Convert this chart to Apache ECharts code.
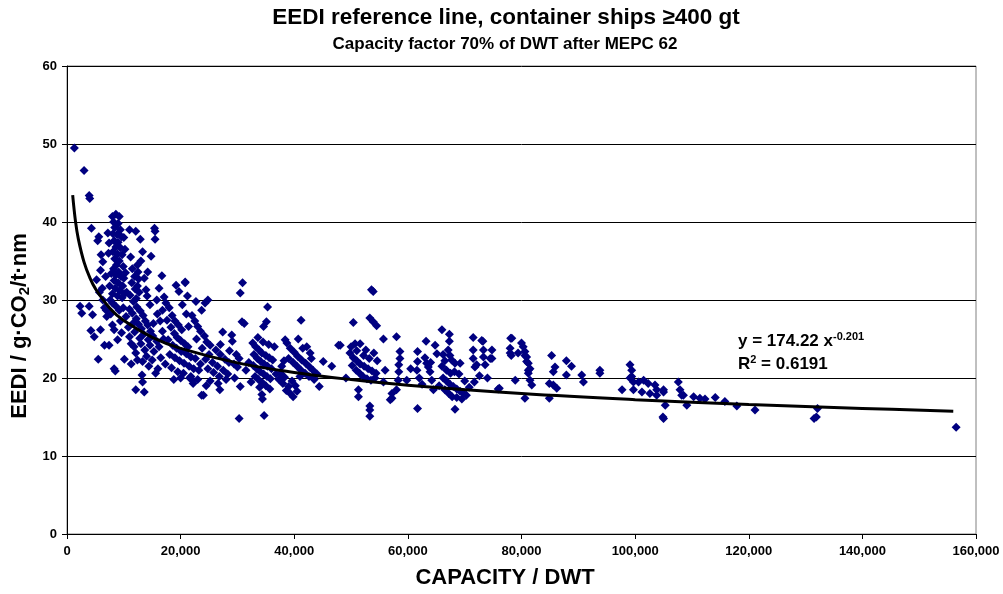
<!DOCTYPE html>
<html><head><meta charset="utf-8">
<script src="https://cdn.jsdelivr.net/npm/echarts@6/dist/echarts.min.js"></script>
<style>html,body{margin:0;padding:0;background:#fff}#c{width:1003px;height:594px}</style>
</head><body><div id="c"></div>
<script>
// capacity in thousand DWT, EEDI in g CO2 / t·nm
const shipsSmall = [[1.3,49.5],[3.0,46.6],[3.9,43.4],[4.0,43.0],[4.3,39.2],[2.3,29.2],[2.6,28.3],[3.9,29.2],[4.5,28.1],[4.2,26.1],[4.8,25.3],[5.9,26.2],[5.5,22.4],[5.6,38.1],[5.4,37.6],[6.0,35.8],[6.3,34.9],[5.9,33.8],[5.2,32.6],[6.3,30.0],[6.6,24.2],[6.9,28.7],[7.0,27.9],[6.2,31.5],[6.6,29.0],[5.7,31.0],[6.8,33.0]];
const shipsFeeder = [[7.2,38.6],[7.4,37.3],[7.3,36.0],[8.0,40.7],[8.6,41.0],[9.2,40.7],[8.2,40.0],[9.0,39.8],[8.4,39.3],[9.4,39.0],[8.1,38.5],[8.8,38.4],[9.6,38.1],[8.3,37.6],[9.0,37.4],[8.6,36.8],[9.4,36.7],[8.1,36.2],[8.9,35.9],[9.7,35.8],[8.4,35.3],[9.2,35.0],[8.7,34.5],[9.9,34.3],[8.2,34.0],[9.1,33.6],[8.6,33.2],[9.5,33.0],[10.0,32.8],[8.3,32.5],[9.0,32.2],[9.8,31.8],[8.5,31.5],[9.3,31.2],[8.0,30.8],[8.9,30.5],[9.7,30.3],[10.1,30.8],[7.6,30.0],[8.0,29.6],[9.2,28.7],[8.6,29.2],[10.4,27.9],[9.9,29.0],[7.7,28.2],[8.0,26.8],[8.3,26.2],[8.9,24.9],[7.4,24.2],[8.3,21.2],[8.5,20.9],[9.6,25.8],[10.1,22.4],[9.4,27.3],[7.8,33.4],[7.5,31.8],[10.3,33.5],[10.5,31.0],[10.2,36.5],[10.0,38.0]];
const shipsFeederMax = [[11.0,39.0],[12.1,38.8],[15.4,39.2],[15.5,38.8],[15.5,37.8],[13.3,36.2],[12.4,34.5],[12.5,33.6],[12.6,32.7],[12.4,31.8],[12.7,31.0],[12.2,30.2],[11.6,27.0],[11.0,25.3],[11.3,24.4],[11.8,24.0],[12.1,23.2],[12.4,22.3],[13.3,22.1],[13.2,20.4],[13.3,19.5],[12.1,18.5],[13.6,18.2],[13.9,31.3],[14.1,30.5],[16.7,33.1],[17.1,30.4],[17.4,29.6],[16.8,28.7],[11.2,35.5],[11.5,34.0],[11.9,33.0],[11.4,32.2],[12.0,31.4],[11.1,30.6],[11.7,29.8],[12.3,29.1],[12.9,28.6],[11.5,28.3],[13.4,28.0],[12.2,27.6],[13.8,27.3],[12.6,26.9],[14.2,26.8],[13.1,26.3],[14.7,26.0],[11.9,25.9],[13.5,25.6],[15.1,25.4],[12.8,25.1],[14.3,24.9],[15.8,24.7],[13.0,24.4],[14.6,24.2],[16.2,24.0],[13.7,23.6],[15.3,23.4],[14.0,22.8],[16.5,22.6],[15.0,22.3],[14.4,21.5],[16.0,21.2],[15.6,20.6],[14.2,33.6],[13.6,32.8],[14.6,29.4],[15.9,28.2],[16.4,27.3],[15.2,27.0],[16.8,26.0],[17.0,25.0],[13.0,35.0],[14.8,35.6],[12.9,37.8],[16.2,31.5],[15.8,30.0],[10.8,26.5],[11.3,21.8],[11.0,28.8]];
const shipsHandy = [[19.2,31.9],[19.7,31.1],[20.8,32.3],[20.8,32.2],[18.0,29.0],[18.5,28.0],[19.0,27.3],[19.6,26.8],[20.2,26.2],[17.6,27.4],[18.3,26.5],[18.9,25.7],[19.4,25.2],[20.0,24.8],[20.7,24.4],[21.3,24.0],[17.8,24.9],[18.6,24.2],[19.3,23.8],[20.1,23.4],[21.0,23.1],[21.8,22.7],[22.6,22.5],[18.1,23.0],[19.0,22.6],[19.8,22.2],[20.6,21.9],[21.5,21.5],[22.3,21.2],[23.2,21.0],[18.4,21.3],[19.5,20.8],[20.5,20.6],[21.8,20.2],[21.6,20.0],[22.2,19.3],[22.1,19.7],[24.0,17.8],[23.7,17.8],[24.3,29.6],[23.7,28.7],[24.8,30.0],[22.0,28.0],[22.5,27.3],[23.0,26.6],[23.5,26.0],[24.2,25.4],[22.8,25.0],[24.6,24.6],[25.2,24.2],[23.8,23.8],[25.0,23.0],[24.4,22.4],[25.6,22.0],[23.5,21.8],[24.8,21.2],[25.8,20.7],[23.0,19.8],[24.5,19.0],[25.2,19.6],[21.0,28.2],[20.3,29.4],[21.4,26.6],[22.7,29.8],[21.2,30.5],[17.3,21.8],[18.8,19.8],[20.0,20.0]];
const shipsSubPanamax = [[27.4,25.9],[29.0,25.5],[29.1,24.7],[26.6,19.3],[26.9,18.5],[26.2,23.6],[27.0,23.0],[27.8,22.4],[28.5,22.0],[26.5,21.5],[27.5,21.0],[28.3,20.5],[29.4,21.8],[29.8,23.0],[30.3,22.5],[28.0,19.8],[29.5,20.0],[30.5,18.9],[30.3,14.8],[30.9,32.2],[30.5,30.9],[30.8,27.2],[31.2,27.0],[27.0,24.3],[28.6,23.5],[30.0,21.4],[26.8,20.2],
 [35.3,29.1],[35.1,27.2],[34.6,26.6],[32.7,24.5],[33.2,24.0],[33.8,23.6],[34.3,23.2],[35.0,22.9],[35.6,22.6],[36.2,22.3],[32.9,23.0],[33.5,22.5],[34.1,22.1],[34.7,21.8],[35.3,21.5],[36.0,21.2],[32.8,21.6],[33.4,21.2],[34.0,20.8],[34.6,20.5],[35.2,20.2],[35.8,19.9],[33.1,20.2],[33.7,19.8],[34.4,19.4],[35.0,19.0],[35.7,18.6],[33.9,18.8],[34.3,17.9],[34.4,17.3],[34.7,15.2],[32.0,22.0],[31.5,21.0],[36.5,24.0],[36.8,20.5],[32.4,19.5],[34.5,24.6],[35.5,24.3],[33.6,25.2]];
const shipsPanamax = [[41.2,27.4],[38.4,24.9],[40.7,25.0],[39.0,18.9],[39.3,18.0],[39.8,17.6],[37.3,19.8],[38.0,19.3],[38.6,18.4],[37.6,20.6],[38.3,20.1],[40.2,19.0],[40.5,18.3],[39.6,19.6],[38.7,24.5],[39.3,23.8],[40.0,23.3],[40.6,22.8],[41.3,22.3],[42.0,21.9],[42.7,21.4],[43.3,21.0],[39.0,22.5],[39.8,22.0],[40.5,21.5],[41.2,21.0],[41.9,20.6],[42.6,20.2],[41.5,23.8],[42.2,24.0],[42.8,23.2],[43.0,22.5],[44.4,18.9],[45.1,22.1],[46.6,21.5],[47.8,24.2],[44.0,20.5],[43.5,19.8],[41.0,20.2],[37.8,21.5],[38.2,22.2],
 [53.9,31.1],[53.6,31.3],[53.3,27.7],[53.9,27.2],[54.5,26.7],[50.4,27.1],[48.1,24.2],[50.7,24.4],[55.7,25.0],[51.6,24.4],[52.2,22.9],[54.0,23.2],[49.1,20.0],[51.3,18.5],[51.3,17.6],[53.3,16.4],[53.3,15.9],[53.3,15.1],[55.7,19.5],[49.8,23.2],[50.4,22.6],[51.0,22.2],[51.6,21.8],[52.3,21.5],[53.0,21.2],[53.7,20.9],[54.4,20.6],[50.2,21.6],[50.9,21.0],[51.5,20.6],[52.1,20.2],[52.8,19.9],[53.5,19.7],[54.2,20.0],[52.6,23.6],[53.2,22.5],[51.0,23.5],[50.0,24.0],[54.6,22.2],[56.0,21.0]];
const shipsPostPanamax = [[58.0,25.3],[58.6,23.4],[58.6,22.5],[58.4,21.7],[58.4,20.8],[58.3,19.7],[57.2,18.0],[57.2,17.4],[56.9,17.2],[58.0,18.5],[59.8,19.7],[61.7,16.1],[61.7,23.4],[61.7,22.1],[61.6,21.0],[63.2,24.7],[64.8,24.2],[65.1,23.1],[63.3,21.9],[63.6,21.4],[63.9,20.8],[64.2,19.7],[64.5,18.5],[62.0,20.0],[60.5,21.2],[63.0,22.6],[64.0,22.0],[62.5,19.2],
 [66.0,26.2],[67.3,25.6],[67.3,24.7],[67.1,23.6],[67.4,22.9],[67.7,22.3],[68.3,21.9],[69.2,21.9],[66.2,23.0],[66.5,22.2],[66.0,21.5],[66.8,21.0],[67.5,20.6],[68.2,20.8],[69.0,20.5],[66.2,20.0],[66.8,19.6],[67.4,19.2],[68.0,18.9],[68.6,18.6],[69.2,18.3],[69.8,18.0],[70.3,17.8],[66.5,18.5],[67.2,18.0],[67.8,17.6],[68.6,17.5],[69.5,17.3],[68.3,16.0],[70.0,19.6],[65.5,19.0],[70.8,18.8],
 [71.5,25.2],[73.0,24.8],[71.5,23.6],[71.5,22.5],[71.8,21.4],[71.7,19.5],[72.1,21.7],[73.2,24.7],[73.3,23.6],[74.8,23.6],[73.3,22.7],[73.6,21.7],[74.8,22.5],[75.9,18.6],[76.1,18.7],[74.5,22.5],[72.6,20.3],[74.0,20.0]];
const shipsLarge = [[78.1,25.1],[78.3,25.1],[78.0,23.8],[78.0,23.2],[78.2,22.9],[80.0,24.5],[80.3,24.0],[80.6,23.4],[80.6,22.9],[80.9,22.7],[80.9,22.1],[81.2,21.9],[81.2,21.0],[81.5,21.2],[81.2,20.6],[81.5,19.7],[81.8,19.1],[78.9,19.7],[79.4,23.2],[80.6,17.4],[85.3,22.9],[85.9,21.4],[85.6,20.8],[87.9,22.2],[88.8,21.5],[87.9,20.4],[84.9,19.3],[85.6,19.1],[86.2,18.7],[84.9,17.4],
 [90.6,20.4],[90.9,19.5],[93.8,21.0],[93.8,20.6],[97.7,18.5],[99.1,21.7],[99.4,21.0],[99.4,20.2],[99.1,20.0],[99.7,19.5],[100.6,19.5],[101.5,19.7],[102.3,19.3],[103.5,19.1],[103.8,18.5],[105.0,18.5],[99.7,18.5],[101.2,18.2],[102.6,18.0],[103.8,17.8],[105.0,18.2],[105.3,16.5],[104.9,15.0],[105.0,14.8],[107.6,19.5],[107.9,18.5],[108.2,17.8],[108.5,17.8],[109.1,16.5],[110.3,17.6],[111.4,17.4],[112.3,17.3],[114.1,17.5],[115.8,17.0],[117.9,16.4],[121.1,15.9],
 [132.1,16.1],[131.9,15.0],[131.5,14.8],[156.5,13.7]];
// power trend line y = 174.22 x^-0.201
const trendX = [1,1.5,2,3,4,5,7.5,10,15,20,30,40,50,60,80,100,120,140,156];
const trendY = [43.45,40.05,37.81,34.85,32.89,31.45,28.99,27.36,25.21,23.80,21.94,20.71,19.80,19.08,18.01,17.22,16.60,16.10,15.75];
const xTicks = [0,20,40,60,80,100,120,140,160];
const yTicks = [0,10,20,30,40,50,60];

const allShips = [].concat(shipsSmall, shipsFeeder, shipsFeederMax, shipsHandy, shipsSubPanamax, shipsPanamax, shipsPostPanamax, shipsLarge);
const F = 'Liberation Sans, Arial, sans-serif';
const supStyle = {fontFamily: F, fontWeight: 'bold', fontSize: 11, fill: '#000', padding: [0,0,9,0]};
const chart = echarts.init(document.getElementById('c'));
chart.setOption({
  animation: false,
  backgroundColor: '#fff',
  grid: {left: 67, right: 27, top: 66, bottom: 60, show: true, borderColor: '#808080', borderWidth: 1, backgroundColor: 'transparent'},
  xAxis: {
    type: 'value', min: xTicks[0], max: xTicks[xTicks.length-1], interval: 20,
    axisLine: {lineStyle: {color: '#000', width: 1}},
    axisTick: {show: true, inside: false, length: 5, lineStyle: {color: '#000'}},
    axisLabel: {fontFamily: F, fontWeight: 'bold', fontSize: 13, color: '#000', margin: 11,
      formatter: v => (v*1000).toLocaleString('en-US')},
    splitLine: {show: false}
  },
  yAxis: {
    type: 'value', min: yTicks[0], max: yTicks[yTicks.length-1], interval: 10,
    axisLine: {show: true, lineStyle: {color: '#000', width: 1}},
    axisTick: {show: true, inside: false, length: 5, lineStyle: {color: '#000'}},
    axisLabel: {fontFamily: F, fontWeight: 'bold', fontSize: 13, color: '#000', margin: 10},
    splitLine: {show: true, lineStyle: {color: '#000', width: 1}}
  },
  series: [
    {type: 'scatter', data: allShips, symbol: 'diamond', symbolSize: 9,
     itemStyle: {color: '#000080', opacity: 1}, z: 2},
    {type: 'line', data: trendX.map((x,i)=>[x,trendY[i]]), smooth: 0.4, symbol: 'none',
     lineStyle: {color: '#000', width: 3}, z: 3}
  ],
  graphic: [
    {type: 'text', x: 506, y: 6, style: {text: 'EEDI reference line, container ships ≥400 gt', font: 'bold 22.5px ' + F, fill: '#000', textAlign: 'center'}},
    {type: 'text', x: 505, y: 36, style: {text: 'Capacity factor 70% of DWT after MEPC 62', font: 'bold 17px ' + F, fill: '#000', textAlign: 'center'}},
    {type: 'text', x: 505, y: 578, style: {text: 'CAPACITY / DWT', font: 'bold 22px ' + F, fill: '#000', textAlign: 'center', textVerticalAlign: 'middle'}},
    {type: 'text', x: 20, y: 326, rotation: Math.PI/2, style: {text: 'EEDI / g·CO{sub|2}/t·nm', font: 'bold 22px ' + F, fill: '#000', textAlign: 'center', textVerticalAlign: 'middle',
      rich: {sub: {fontFamily: F, fontWeight: 'bold', fontSize: 15, fill: '#000', padding: [9,0,0,0]}}}},
    {type: 'text', x: 738, y: 331, style: {text: 'y = 174.22 x{sup|-0.201}', font: 'bold 17px ' + F, fill: '#000', rich: {sup: supStyle}}},
    {type: 'text', x: 738, y: 354, style: {text: 'R{sup|2} = 0.6191', font: 'bold 17px ' + F, fill: '#000', rich: {sup: supStyle}}}
  ]
});
</script></body></html>
